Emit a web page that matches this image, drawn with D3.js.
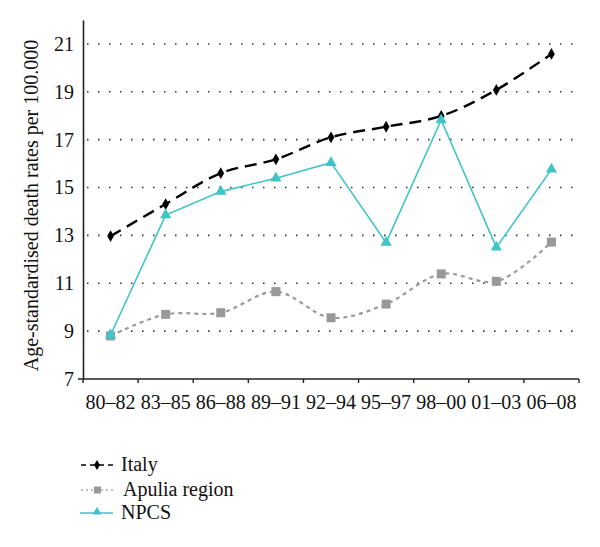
<!DOCTYPE html>
<html><head><meta charset="utf-8">
<script src="https://cdn.jsdelivr.net/npm/d3@7"></script>
<style>body{margin:0;background:#fff}svg{display:block;font-family:"Liberation Serif",serif}svg text{font-family:"Liberation Serif",serif !important;fill:#111}</style>
</head><body><svg id="c" width="600" height="547"></svg>
<script>
const categories = ["80–82","83–85","86–88","89–91","92–94","95–97","98–00","01–03","06–08"];
const italy  = [12.97,14.31,15.6,16.18,17.1,17.54,17.99,19.08,20.58];
const apulia = [8.8,9.7,9.77,10.65,9.56,10.13,11.39,11.08,12.72];
const npcs   = [8.84,13.85,14.83,15.39,16.04,12.7,17.82,12.5,15.76];
const yTicks = [7,9,11,13,15,17,19,21];
const seriesNames = ["Italy","Apulia region","NPCS"];

const FS = "20px";
const svg = d3.select("#c");
const L = 83, R = 579, T = 20, B = 379;
const x = d3.scaleBand().domain(categories).range([L, R]);
const y = d3.scaleLinear().domain([7, 22]).range([B, T]);
const cx = d => x(d) + x.bandwidth()/2;

// gridlines
svg.append("g").selectAll("line").data(yTicks.filter(v => v > 7)).join("line")
  .attr("x1", L + 4).attr("x2", R).attr("y1", d => y(d)).attr("y2", d => y(d))
  .attr("stroke", "#333").attr("stroke-width", 1.6).attr("stroke-dasharray", "1.5 9.5");

// y axis
const ya = svg.append("g").attr("transform", `translate(${L},0)`)
  .call(d3.axisLeft(y).tickValues(yTicks).tickSize(0).tickPadding(9).tickFormat(d3.format("d")));
ya.attr("font-family", null).attr("font-size", null);
ya.select(".domain").attr("stroke", "#222").attr("stroke-width", 1.6);
ya.selectAll("text").style("font-size", FS).attr("fill", "#111");

// x axis
const xa = svg.append("g").attr("transform", `translate(0,${B})`)
  .call(d3.axisBottom(x).tickSize(0).tickPadding(16));
xa.attr("font-family", null).attr("font-size", null);
xa.select(".domain").attr("stroke", "#222").attr("stroke-width", 1.6).attr("d", `M${L-5},0H${R}`);
xa.selectAll("text").style("font-size", FS).attr("fill", "#111");
const edges = categories.map(c => x(c)).concat([R]);
svg.append("g").selectAll("line").data(edges).join("line")
  .attr("x1", d => d).attr("x2", d => d).attr("y1", B).attr("y2", B + 4)
  .attr("stroke", "#222").attr("stroke-width", 1.4);

// y label
svg.append("text").attr("transform", `translate(38,${(T+B)/2+6}) rotate(-90)`)
  .attr("text-anchor", "middle").style("font-size", FS).text("Age-standardised death rates per 100.000");

const smooth = d3.curveCatmullRom.alpha(0.5);
const line = (vals, curve) => d3.line().x((d,i) => cx(categories[i])).y(d => y(d)).curve(curve)(vals);

// Apulia
svg.append("path").attr("d", line(apulia, smooth)).attr("fill", "none")
  .attr("stroke", "#9a9a9a").attr("stroke-width", 2.2).attr("stroke-dasharray", "4 4");
svg.append("g").selectAll("rect").data(apulia).join("rect")
  .attr("x", (d,i) => cx(categories[i]) - 4.5).attr("y", d => y(d) - 4.5)
  .attr("width", 9).attr("height", 9).attr("fill", "#999");

// Italy
svg.append("path").attr("d", line(italy, smooth)).attr("fill", "none")
  .attr("stroke", "#000").attr("stroke-width", 2.4).attr("stroke-dasharray", "12 7");
const diamond = d3.symbol().type(d3.symbolDiamond).size(40);
svg.append("g").selectAll("path").data(italy).join("path")
  .attr("transform", (d,i) => `translate(${cx(categories[i])},${y(d)})`)
  .attr("d", diamond).attr("fill", "#000");

// NPCS
svg.append("path").attr("d", line(npcs, d3.curveLinear)).attr("fill", "none")
  .attr("stroke", "#3fc5c8").attr("stroke-width", 1.6);
const tri = d3.symbol().type(d3.symbolTriangle).size(55);
svg.append("g").selectAll("path").data(npcs).join("path")
  .attr("transform", (d,i) => `translate(${cx(categories[i])},${y(d)})`)
  .attr("d", tri).attr("fill", "#3fc5c8");

// legend
const lg = svg.append("g");
const rows = [465, 490, 513];
lg.append("line").attr("x1", 81).attr("x2", 113).attr("y1", rows[0]).attr("y2", rows[0])
  .attr("stroke", "#000").attr("stroke-width", 1.6).attr("stroke-dasharray", "5 4");
lg.append("path").attr("transform", `translate(97,${rows[0]})`).attr("d", d3.symbol().type(d3.symbolDiamond).size(30)).attr("fill", "#000");
lg.append("line").attr("x1", 81).attr("x2", 113).attr("y1", rows[1]).attr("y2", rows[1])
  .attr("stroke", "#aaa").attr("stroke-width", 1.6).attr("stroke-dasharray", "2 3");
lg.append("rect").attr("x", 94).attr("y", rows[1]-3.5).attr("width", 7).attr("height", 7).attr("fill", "#999");
lg.append("line").attr("x1", 80).attr("x2", 113).attr("y1", rows[2]).attr("y2", rows[2])
  .attr("stroke", "#3fc5c8").attr("stroke-width", 1.6);
lg.append("path").attr("transform", `translate(97,${rows[2]-1})`).attr("d", d3.symbol().type(d3.symbolTriangle).size(35)).attr("fill", "#3fc5c8");
lg.selectAll("text").data(seriesNames).join("text")
  .attr("x", (d,i) => i === 1 ? 123 : 121).attr("y", (d,i) => rows[i] + 6)
  .style("font-size", FS).text(d => d);
</script></body></html>
